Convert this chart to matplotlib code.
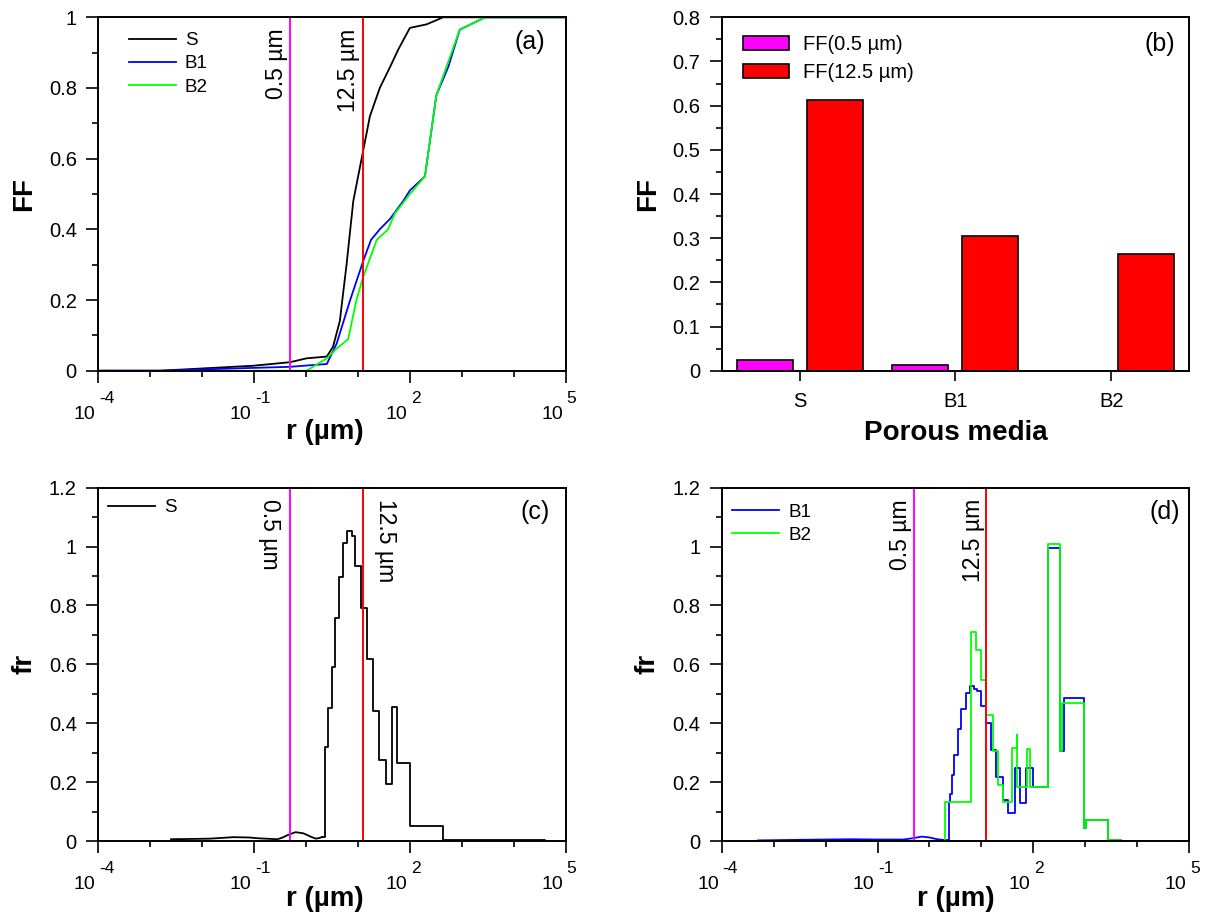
import numpy as np
import matplotlib
matplotlib.use('Agg')
import matplotlib.pyplot as plt
import matplotlib.transforms as mtransforms
from matplotlib.ticker import FixedLocator, MultipleLocator, FuncFormatter, NullFormatter

plt.rcParams['font.family'] = ['Liberation Sans', 'DejaVu Sans']

# ---- data (r given as log10 of radius in um) ----
# (a) cumulative fraction FF
S_cdf_logr = [-4.0, -2.81, -1.02, -0.31, 0.01, 0.40, 0.52, 0.65, 0.78, 0.91, 1.07,
              1.23, 1.42, 1.62, 1.78, 2.0, 2.32, 2.64, 5.0]
S_cdf = [0.0, 0.0, 0.014, 0.024, 0.035, 0.04, 0.068, 0.14, 0.30, 0.48, 0.60,
         0.72, 0.80, 0.86, 0.91, 0.97, 0.98, 1.0, 1.0]
B1_cdf_logr = [-4.0, -2.8, -1.0, -0.31, 0.40, 0.59, 0.85, 1.10, 1.25, 1.42, 1.62,
               1.87, 2.0, 2.29, 2.51, 2.74, 2.96, 3.45, 5.0]
B1_cdf = [0.0, 0.0, 0.008, 0.011, 0.019, 0.077, 0.2, 0.31, 0.37, 0.40, 0.43,
          0.48, 0.51, 0.55, 0.78, 0.86, 0.965, 1.0, 1.0]
B2_cdf_logr = [-1.0, 0.01, 0.40, 0.59, 0.81, 0.97, 1.10, 1.36, 1.58, 1.71, 1.87,
               2.0, 2.29, 2.51, 2.96, 3.45, 5.0]
B2_cdf = [0.0, 0.0, 0.035, 0.063, 0.089, 0.2, 0.265, 0.37, 0.40, 0.445, 0.475,
          0.50, 0.55, 0.78, 0.965, 1.0, 1.0]

# (b) FF at the two cut-off radii
media = ['S', 'B1', 'B2']
ff_05 = [0.024, 0.012, 0.0]
ff_125 = [0.613, 0.306, 0.265]

# (c) frequency fr of S: smooth part, then histogram steps
S_fr_logr_smooth = [-2.6, -2.2, -1.85, -1.4, -1.1, -0.9, -0.55, -0.45, -0.33, -0.2,
                    -0.05, 0.1, 0.19, 0.25, 0.31]
S_fr_smooth = [0.006, 0.007, 0.008, 0.013, 0.012, 0.009, 0.006, 0.012, 0.022, 0.03,
               0.026, 0.014, 0.008, 0.01, 0.013]
S_fr_logr_steps = [0.36, 0.43, 0.495, 0.56, 0.64, 0.71, 0.785, 0.88, 0.945, 1.06,
                   1.17, 1.285, 1.41, 1.54, 1.65, 1.76, 2.0, 2.645, 4.6]
S_fr_steps = [0.32, 0.452, 0.592, 0.758, 0.898, 1.013, 1.052, 1.035, 0.935, 0.79,
              0.618, 0.44, 0.275, 0.193, 0.455, 0.265, 0.05, 0.002, 0.0]

# (d) frequency fr of B1 and B2
B1_fr_logr_smooth = [-3.3, -2.5, -2.0, -1.5, -1.0, -0.5, -0.3, -0.15, 0.0, 0.15, 0.3]
B1_fr_smooth = [0.002, 0.004, 0.005, 0.006, 0.005, 0.005, 0.01, 0.015, 0.012, 0.006, 0.003]
B1_fr_logr_steps = [0.37, 0.40, 0.435, 0.474, 0.551, 0.615, 0.711, 0.788, 0.852, 0.917,
                    1.0, 1.08, 1.19, 1.285, 1.41, 1.52, 1.64, 1.75, 1.865, 1.99,
                    2.282, 2.506, 2.60, 2.97, 3.006, 3.435, 3.69, 4.7]
B1_fr_steps = [0.131, 0.16, 0.224, 0.292, 0.38, 0.448, 0.502, 0.525, 0.515, 0.51,
               0.46, 0.40, 0.309, 0.219, 0.14, 0.096, 0.249, 0.128, 0.249, 0.184,
               0.995, 0.305, 0.487, 0.043, 0.072, 0.005, 0.0, 0.0]
B2_fr_logr_steps = [-1.0, 0.294, 0.808, 0.904, 0.987, 1.083, 1.215, 1.32, 1.416, 1.596,
                    1.686, 1.69, 1.88, 1.942, 2.282, 2.506, 2.558, 2.97, 3.006, 3.435,
                    3.69, 4.7]
B2_fr_steps = [0.0, 0.131, 0.709, 0.647, 0.547, 0.428, 0.304, 0.19, 0.134, 0.315,
               0.36, 0.185, 0.311, 0.184, 1.01, 0.305, 0.47, 0.043, 0.072, 0.005,
               0.0, 0.0]

cutoffs = [0.5, 12.5]
cut_colors = ['#ff00ff', '#ff0000']
cut_labels = ['0.5 µm', '12.5 µm']
log_majors = [1e-4, 1e-1, 1e2, 1e5]
log_minors = [1e-3, 1e-2, 1, 10, 1e3, 1e4]

TICK = 14.5
LAB = 20
PANEL = 18


def r_of(logr):
    return 10.0 ** np.asarray(logr)


def style_common(ax):
    for s in ax.spines.values():
        s.set_linewidth(1.4)
    ax.tick_params(which='both', direction='out', top=False, right=False,
                   labelsize=TICK, width=1.2)
    ax.tick_params(which='major', length=8.5)
    ax.tick_params(which='minor', length=4)
    ax.tick_params(axis='y', which='major', pad=7)


def style_log_x(ax, xlab_x=0.5, xlab_y=-0.138):
    ax.set_xscale('log')
    ax.set_xlim(1e-4, 1e5)
    ax.xaxis.set_major_locator(FixedLocator(log_majors))
    ax.xaxis.set_minor_locator(FixedLocator(log_minors))
    ax.xaxis.set_major_formatter(NullFormatter())
    ax.xaxis.set_minor_formatter(NullFormatter())
    # "10" with a raised exponent, drawn as two texts like the original
    trans = mtransforms.blended_transform_factory(ax.transData, ax.transAxes)
    for v in log_majors:
        e = int(round(np.log10(v)))
        ax.annotate('10', xy=(v, 0), xycoords=trans, xytext=(-2.0, -34.8),
                    textcoords='offset points', ha='right', va='baseline',
                    fontsize=14, annotation_clip=False)
        ax.annotate('%d' % e, xy=(v, 0), xycoords=trans, xytext=(0.7, -23.3),
                    textcoords='offset points', ha='left', va='baseline',
                    fontsize=12.5, annotation_clip=False)
    ax.set_xlabel('r (µm)', fontsize=LAB, fontweight='bold')
    ax.xaxis.set_label_coords(xlab_x, xlab_y)
    ax.xaxis.label.set_va('top')


def yfmt(v, p):
    return '{:g}'.format(round(v, 3))


def cut_lines(ax, rotations, offsets):
    trans = mtransforms.blended_transform_factory(ax.transData, ax.transAxes)
    for c, col, lab, rot, dx in zip(cutoffs, cut_colors, cut_labels, rotations, offsets):
        ax.axvline(c, color=col, lw=1.4)
        ax.annotate(lab, xy=(c, 0.968), xycoords=trans, xytext=(dx, 0),
                    textcoords='offset points', rotation=rot,
                    ha='right' if dx < 0 else 'left', va='top', fontsize=16.5)


fig = plt.figure(figsize=(12.09, 9.13), dpi=100)
W = 467.4 / 1209
H = 353.4 / 913
axa = fig.add_axes([98.3 / 1209, (913 - 370.7) / 913, W, H])
axb = fig.add_axes([721.7 / 1209, (913 - 370.7) / 913, W, H])
axc = fig.add_axes([98.3 / 1209, (913 - 841) / 913, W, H])
axd = fig.add_axes([721.7 / 1209, (913 - 841) / 913, W, H])

# ---- (a) ----
ax = axa
style_common(ax)
ax.plot(r_of(S_cdf_logr), S_cdf, color='black', lw=1.3, label='S')
ax.plot(r_of(B1_cdf_logr), B1_cdf, color='#0000ff', lw=1.3, label='B1')
ax.plot(r_of(B2_cdf_logr), B2_cdf, color='#00ff00', lw=1.3, label='B2')
cut_lines(ax, [90, 90], [-2, -2])
style_log_x(ax, 0.485)
ax.set_ylim(0, 1)
ax.yaxis.set_major_locator(MultipleLocator(0.2))
ax.yaxis.set_minor_locator(MultipleLocator(0.1))
ax.yaxis.set_major_formatter(FuncFormatter(yfmt))
ax.set_ylabel('FF', fontsize=LAB, fontweight='bold')
ax.yaxis.set_label_coords(-0.13, 0.5)
ax.legend(loc='upper left', bbox_to_anchor=(0.065, 0.958), frameon=False,
          fontsize=13.5, handlelength=2.5, handletextpad=0.5, labelspacing=0.32,
          borderpad=0, borderaxespad=0)
ax.text(0.955, 0.93, '(a)', transform=ax.transAxes, ha='right', va='center',
        fontsize=PANEL)

# ---- (b) ----
ax = axb
style_common(ax)
x = np.arange(len(media))
ax.bar(x - 0.225, ff_05, 0.36, color='#ff00ff', edgecolor='black', lw=1.2,
       label='FF(0.5 µm)')
ax.bar(x + 0.225, ff_125, 0.36, color='#ff0000', edgecolor='black', lw=1.2,
       label='FF(12.5 µm)')
ax.set_xlim(-0.5, 2.5)
ax.set_ylim(0, 0.8)
ax.set_xticks(x)
ax.set_xticklabels(media)
ax.tick_params(axis='x', which='major', length=7, pad=8)
ax.yaxis.set_major_locator(MultipleLocator(0.1))
ax.yaxis.set_minor_locator(MultipleLocator(0.05))
ax.yaxis.set_major_formatter(FuncFormatter(yfmt))
ax.set_ylabel('FF', fontsize=LAB, fontweight='bold')
ax.yaxis.set_label_coords(-0.13, 0.5)
ax.set_xlabel('Porous media', fontsize=LAB, fontweight='bold')
ax.xaxis.set_label_coords(0.5, -0.14)
ax.xaxis.label.set_va('top')
ax.legend(loc='upper left', bbox_to_anchor=(0.045, 0.95), frameon=False,
          fontsize=14.5, handlelength=2.3, handleheight=0.65, handletextpad=0.7,
          labelspacing=0.45, borderpad=0, borderaxespad=0)
ax.text(0.97, 0.925, '(b)', transform=ax.transAxes, ha='right', va='center',
        fontsize=PANEL)

# ---- (c) ----
ax = axc
style_common(ax)
ax.plot(r_of(S_fr_logr_smooth), S_fr_smooth, color='black', lw=1.3, label='S')
ax.step(r_of([S_fr_logr_smooth[-1]] + S_fr_logr_steps), [S_fr_smooth[-1]] + S_fr_steps,
        where='post', color='black', lw=1.3)
cut_lines(ax, [-90, -90], [-7, 8])
style_log_x(ax, 0.485, -0.126)
ax.set_ylim(0, 1.2)
ax.yaxis.set_major_locator(MultipleLocator(0.2))
ax.yaxis.set_minor_locator(MultipleLocator(0.1))
ax.yaxis.set_major_formatter(FuncFormatter(yfmt))
ax.set_ylabel('fr', fontsize=LAB, fontweight='bold')
ax.yaxis.set_label_coords(-0.13, 0.5)
ax.legend(loc='upper left', bbox_to_anchor=(0.02, 0.967), frameon=False,
          fontsize=13.5, handlelength=2.5, handletextpad=0.5,
          borderpad=0, borderaxespad=0)
ax.text(0.966, 0.93, '(c)', transform=ax.transAxes, ha='right', va='center',
        fontsize=PANEL)

# ---- (d) ----
ax = axd
style_common(ax)
ax.plot(r_of(B1_fr_logr_smooth), B1_fr_smooth, color='#0000ff', lw=1.3, label='B1')
ax.step(r_of([B1_fr_logr_smooth[-1]] + B1_fr_logr_steps), [B1_fr_smooth[-1]] + B1_fr_steps,
        where='post', color='#0000ff', lw=1.3)
ax.step(r_of(B2_fr_logr_steps), B2_fr_steps, where='post', color='#00ff00', lw=1.3,
        label='B2')
cut_lines(ax, [90, 90], [-1, -1])
style_log_x(ax, 0.5, -0.126)
ax.set_ylim(0, 1.2)
ax.yaxis.set_major_locator(MultipleLocator(0.2))
ax.yaxis.set_minor_locator(MultipleLocator(0.1))
ax.yaxis.set_major_formatter(FuncFormatter(yfmt))
ax.set_ylabel('fr', fontsize=LAB, fontweight='bold')
ax.yaxis.set_label_coords(-0.13, 0.5)
ax.legend(loc='upper left', bbox_to_anchor=(0.022, 0.955), frameon=False,
          fontsize=13.5, handlelength=2.5, handletextpad=0.5, labelspacing=0.32,
          borderpad=0, borderaxespad=0)
ax.text(0.98, 0.93, '(d)', transform=ax.transAxes, ha='right', va='center',
        fontsize=PANEL)

fig.savefig('out.png', dpi=100)
